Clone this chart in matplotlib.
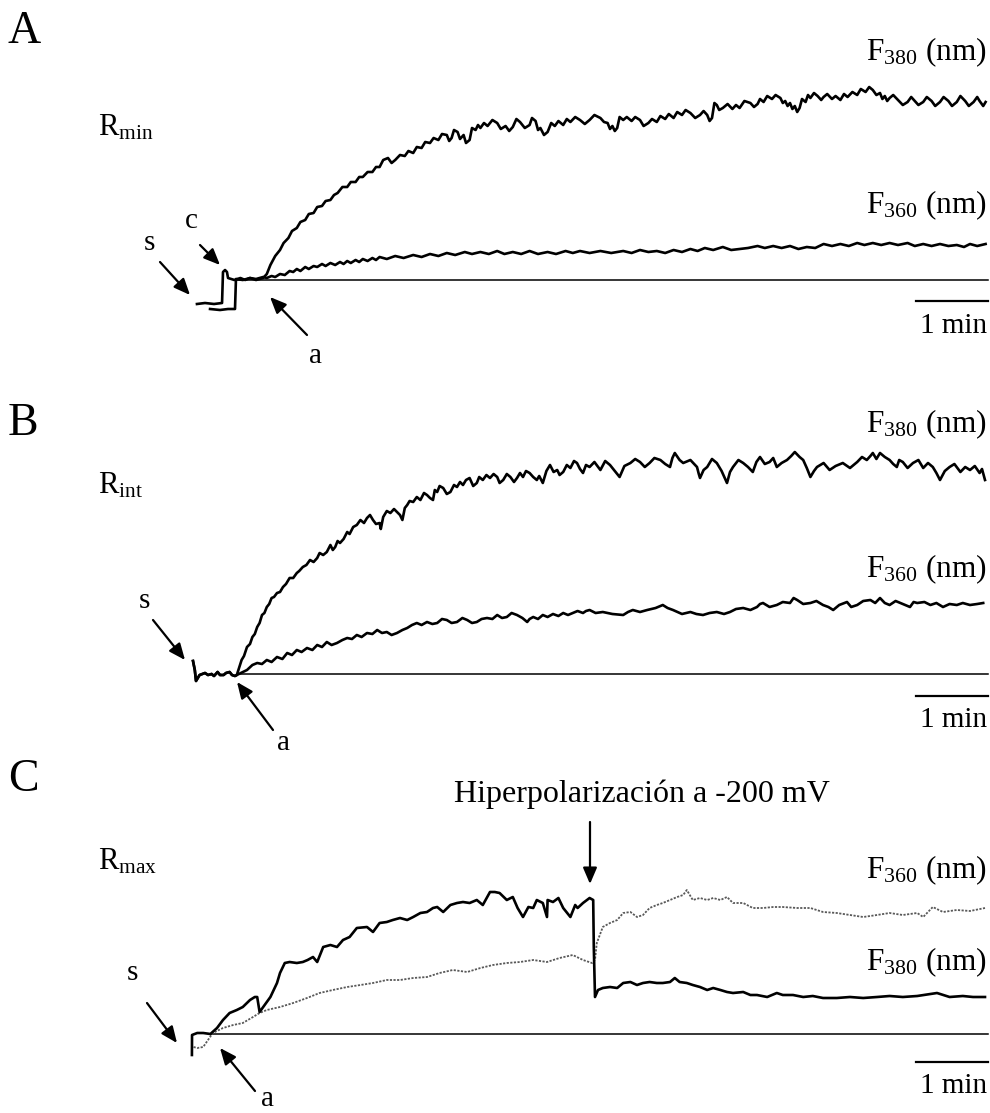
import matplotlib
matplotlib.use("Agg")
import matplotlib.pyplot as plt

plt.rcParams['font.family'] = ['Liberation Serif', 'DejaVu Serif']
plt.rcParams['mathtext.fontset'] = 'custom'
plt.rcParams['mathtext.rm'] = 'Liberation Serif'
plt.rcParams['mathtext.it'] = 'Liberation Serif:italic'

# ---------------- data: (time in s, fluorescence in a.u. above background) -------------
A_F380 = [(5.8,-24),(12.5,-23),(20,-24),(26.7,-23),(27.5,8),(29.2,10),(30.8,8),(31.7,2),(37,0),(42,2),(46,0),(50,2),(55,0),(61,2),
          (64,6),(67,15),(71,24),(75,30),(78,37),(82,42),(85,49),(89,52),(92,58),(96,60),(99,66),(103,67),(106,73),(110,74),
          (113,79),(117,80),(120,85),(123,87),(127,93),(131,93),(134,98),(138,98),(141,103),(144,103),(148,108),(152,108),
          (155,113),(158,113),(161,120),(165,122),(168,117),(171,120),(175,125),(179,124),(182,129),(186,127),(189,133),
          (193,132),(196,138),(200,137),(203,142),(207,140),(210,146),(214,145),(216,139),(218,142),(220,150),(223,148),
          (225,141),(228,145),(230,137),(233,140),(235,152),(238,150),(240,155),(242,152),(245,157),(248,154),(252,160),
          (256,157),(259,151),(263,154),(266,149),(269,153),(272,161),(275,158),(279,152),(283,155),(285,162),(288,159),
          (290,150),(292,152),(295,145),(298,148),(301,157),(304,154),(307,159),(311,155),(314,161),(317,158),(321,163),
          (325,160),(329,156),(333,160),(337,165),(342,162),(345,158),(348,157),(350,151),(352,154),(354,149),(356,152),
          (358,163),(361,160),(364,163),(368,159),(371,163),(375,160),(378,154),(382,157),(385,161),(389,158),(392,164),
          (396,161),(399,166),(403,162),(406,168),(410,165),(413,170),(417,167),(421,162),(425,165),(428,169),(431,165),
          (433,159),(435,162),(437,177),(439,175),(441,170),(444,172),(448,176),(452,171),(455,175),(458,172),(462,179),
          (467,177),(470,173),(473,176),(475,181),(478,178),(481,184),(485,181),(488,185),(492,182),(494,177),(496,179),
          (498,174),(500,177),(502,171),(504,174),(506,168),(508,172),(510,181),(513,178),(515,185),(517,182),(520,187),
          (523,184),(526,180),(528,183),(531,186),(535,181),(538,184),(542,180),(545,186),(548,183),(552,188),(556,185),
          (559,191),(563,188),(566,193),(569,190),(572,185),(575,187),(577,181),(579,184),(581,179),(583,182),(586,185),
          (590,180),(594,175),(598,178),(601,183),(604,179),(607,175),(611,178),(614,183),(618,179),(621,174),(625,178),
          (628,183),(632,179),(635,174),(639,178),(642,184),(646,179),(649,174),(653,178),(656,183),(658,179),(661,174),
          (663,178)]
A_F360 = [(16.7,-29),(25,-30),(31.7,-29),(37.5,-29),(38.3,1),(44,0),(50,2),(55,1),(61,3),(64,2),(68,4),(71,3),(75,6),
          (79,5),(83,9),(86,8),(89,11),(92,9),(96,13),(99,11),(103,14),(106,13),(110,16),(113,14),(117,17),(121,15),
          (125,18),(128,16),(131,19),(134,17),(138,20),(141,18),(144,21),(148,19),(152,22),(155,20),(158,23),(164,21),
          (171,24),(178,22),(186,25),(193,23),(200,26),(207,24),(214,27),(221,25),(229,28),(235,26),(242,28),(249,26),
          (256,29),(262,26),(269,28),(276,26),(283,29),(290,26),(298,28),(305,26),(313,29),(319,27),(325,29),(333,27),
          (342,29),(351,27),(361,29),(368,27),(375,30),(382,28),(389,29),(396,27),(403,30),(410,28),(417,31),(423,29),
          (429,32),(436,30),(444,33),(451,30),(458,31),(465,32),(473,34),(479,32),(486,34),(493,32),(500,34),(507,31),
          (514,33),(521,32),(528,36),(535,34),(542,36),(549,34),(556,37),(562,35),(569,37),(576,35),(583,37),(590,35),
          (598,37),(604,34),(611,36),(618,34),(625,36),(632,34),(639,35),(645,33),(650,36),(656,34),(663,36)]
A_ZERO = [(38.3,0),(665,0)]

B_START = [(2.5,13),(4,4),(5,-7),(8,-1),(12.5,1),(15,-1),(18,0),(20,-2),(23,2),(25,-1),(28,-1),(30,1),(33,2),
           (35,-1),(37.5,-2),(39,-1)]
B_F380 = [(43,14),(45,18),(47.5,27),(50,30),(52,37),(54,40),(56,47),(58,51),(60,59),(62,61),(64,67),(66,70),(68,76),
          (70,77),(72.5,81),(75,82),(77.5,87),(80,90),(83,96),(86,96),(89,101),(91,103),(94,107),(97,109),(100,114),
          (103,112),(106,116),(108,121),(111,119),(114,122),(117,129),(119,124),(121,127),(123,133),(125,131),(128,135),
          (131,142),(133,140),(136,147),(139,149),(142,154),(145,151),(147.5,156),(150,159),(152.5,154),(155,150),
          (158,151),(159,145),(161,157),(164,163),(167,161),(170,165),(172.5,162),(175,159),(177,154),(179,166),
          (181,169),(183,173),(186,172),(189,177),(192,174),(195,181),(197.5,179),(200,176),(202.5,174),(204,184),
          (206,182),(208,188),(211,186),(214,180),(217,182),(220,189),(222.5,187),(225,192),(227.5,189),(230,194),
          (233,196),(236,188),(239,191),(241,197),(244,194),(247,199),(250,196),(253,200),(256,197),(258,191),
          (261,194),(264,200),(267,197),(270,192),(272.5,196),(275,201),(277.5,197),(280,203),(283,201),(286,197),
          (289,194),(291,198),(294,191),(297,203),(300,209),(303,202),(306,204),(308,199),(311,202),(314,209),
          (317,206),(320,213),(322.5,211),(325,205),(327.5,201),(330,209),(333,207),(337,212),(342,204),(346,213),
          (350,209),(354,203),(358,197),(362,208),(367,211),(371,215),(375,212),(379,207),(383,211),(387,216),
          (392,214),(396,210),(400,207),(402,216),(404,221),(408,214),(411,211),(417,214),(422.5,207),(424,200),
          (425,196),(428,204),(431,207),(435,215),(439,211),(443,203),(447.5,191),(450,202),(452.5,207),(457,214),
          (461,211),(465,207),(469,202),(472,212),(475,217),(479,210),(483,212),(486,216),(489,207),(493,211),
          (497.5,214),(501,218),(504,222),(508,217),(511,214),(514,206),(517,197),(520,203),(522.5,207),(528,211),
          (533,204),(538,208),(544,211),(550,206),(556,212),(560,217),(564,214),(567,218),(569,221),(572,215),
          (575,221),(579,217),(583,214),(586,210),(589,207),(591,214),(594,212),(598,206),(602.5,211),(607,214),
          (611,206),(615,211),(619,207),(622,201),(625,194),(629,203),(633,207),(637,210),(642,202),(646,207),
          (650,204),(654,208),(658,201),(660,205),(662.5,194)]
B_F360 = [(47.5,4),(52,9),(56,11),(60,10),(64,14),(68,12),(72.5,17),(77,15),(81,21),(85,19),(89,24),(93,22),
          (97.5,26),(102,24),(106,29),(110,27),(114,32),(118,29),(122.5,31),(127,34),(131,36),(135,35),(139,39),
          (143,37),(147.5,41),(152,40),(156,44),(160,41),(164,42),(168,39),(172.5,41),(177,44),(181,46),(185,49),
          (189,51),(193,49),(197.5,52),(202,50),(206,51),(210,55),(214,54),(218,51),(222.5,52),(227,56),(231,54),
          (235,51),(239,52),(243,55),(247.5,56),(252,55),(256,59),(260,56),(264,57),(268,61),(272.5,59),(277,56),
          (281,52),(283,55),(286,57),(290,55),(294,59),(298,57),(302.5,60),(307,58),(311,61),(315,59),(319,61),
          (323,63),(327.5,61),(330,63),(333,64),(338,61),(344,62),(352,60),(361,59),(365,62),(369,64),(375,62),
          (381,64),(388,66),(394,69),(398,66),(402.5,64),(410,60),(417,62),(422,60),(427.5,59),(433,61),(439,62),
          (445,60),(450,62),(455,65),(461,66),(467,64),(472.5,67),(475,70),(477.5,71),(483,67),(489,69),(494,72),
          (500,71),(503,76),(506,74),(511,70),(517,71),(522,73),(527.5,69),(532,67),(536,64),(541,69),(547.5,72),
          (551,67),(556,69),(561,73),(567,74),(571,71),(575,76),(579,71),(583,69),(588,73),(592,71),(596,69),
          (600,67),(603,72),(606,71),(612,72),(617,69),(622,71),(627.5,67),(633,70),(639,69),(644,71),(650,69),
          (656,70),(661,71)]
B_ZERO = [(39,0),(665,0)]

C_F380 = [(1.6,-21),(1.7,-1),(6,1),(11,1),(17,0),(22.5,6),(27.5,14),(33,21),(39,24),(44,27),(50,34),
          (54,37),(56,37),(58,22),(61,27),(67,37),(72.5,51),(75,61),(79,71),(83,72),(89,71),(94,72),
          (98,74),(102.5,77),(106,72),(111,87),(117,89),(122.5,87),(127.5,94),(133,97),(139,106),
          (147.5,107),(152.5,102),(158,111),(164,112),(169,114),(175,116),(181,114),(186,117),(192,121),
          (197.5,122),(202.5,126),(206,127),(211,122),(217,129),(222.5,131),(227.5,132),(233,131),
          (239,134),(244,129),(250,142),(254,142),(258,141),(264,134),(269,137),(273,126),(277.5,117),
          (282,127),(286,126),(289,134),(294,131),(297.5,117),(298,134),(302.5,132),(307,136),(311,126),
          (317,117),(321,129),(323,126),(327.5,131),(333,136),(336,134),(336.5,87),(337.5,37),(340,44),
          (344,46),(350,47),(356,46),(361,51),(367,52),(372.5,49),(377.5,51),(383,52),(389,51),(394,51),
          (400,52),(404,56),(408,52),(414,51),(419,49),(425,47),(431,44),(436,46),(442,44),(447.5,42),
          (452.5,41),(461,42),(467,39),(472.5,39),(481,37),(489,41),(494,39),(502.5,39),(511,37),
          (519,38),(527.5,36),(539,36),(550,37),(561,36),(572.5,37),(583,38),(594,37),(606,38),
          (622.5,41),(633,37),(644,38),(652.5,37),(662.5,37)]
C_F360 = [(3,-13),(6,-14),(11,-13),(15,-6),(19,1),(27.5,6),(36,9),(44,11),(52.5,17),(58,21),(64,24),
          (75,27),(86,31),(97.5,36),(108,41),(119,44),(131,47),(142,49),(152.5,51),(164,54),(175,54),
          (186,56),(197.5,57),(208,61),(219,64),(231,62),(242,66),(252.5,69),(264,71),(275,72),(286,74),
          (297.5,72),(308,76),(319,79),(327.5,74),(335,71),(337.5,74),(339,91),(344,107),(350,111),
          (356,114),(361,121),(367,122),(372.5,117),(377.5,119),(383,126),(389,129),(394,131),(400,134),
          (406,137),(411,139),(414,144),(419,134),(425,136),(431,134),(436,136),(442,134),(447.5,137),
          (452.5,131),(461,131),(469,126),(477.5,126),(486,127),(494,127),(506,126),(517,126),
          (527.5,122),(539,121),(550,119),(561,117),(572.5,119),(583,121),(594,119),(606,121),(611,117),
          (619,127),(627.5,122),(639,124),(650,123),(662.5,126)]
C_ZERO = [(17,0),(665,0)]

SCALE_BAR_S = 60
T_END = 665

# ---------------- layout ----------------
W, H = 990, 1113
fig = plt.figure(figsize=(W / 100, H / 100), dpi=100)
fig.patch.set_facecolor('white')

def panel(top, bottom, base):
    ax = fig.add_axes([190 / W, 1 - bottom / H, 800 / W, (bottom - top) / H])
    ax.set_xlim(0, 800 / 1.2)
    ax.set_ylim(base - bottom, base - top)
    ax.axis('off')
    return ax

def trace(ax, pts, **kw):
    t, f = zip(*pts)
    ax.plot(t, f, clip_on=False, **kw)

axA = panel(0, 380, 280)
axB = panel(380, 750, 674)
axC = panel(750, 1113, 1034)

thick = dict(color='black', lw=1.9)
thin = dict(color='black', lw=1.1)

trace(axA, A_ZERO, **thin)
trace(axA, A_F360, **thick)
trace(axA, A_F380, **thick)

trace(axB, B_ZERO, **thin)
trace(axB, B_START + B_F360, **thick)
trace(axB, B_START + B_F380, **thick)

trace(axC, C_ZERO, **thin)
trace(axC, C_F360, color='0.35', lw=1.3, linestyle=(0, (1.2, 0.8)))
trace(axC, C_F380, **thick)

# scale bars (1 min)
for ax, yb in ((axA, -21), (axB, -22), (axC, -28)):
    ax.plot([T_END - SCALE_BAR_S, T_END], [yb, yb], color='black', lw=1.6, clip_on=False)

def ftext(x, y, s, size, ha='left', **kw):
    fig.text(x / W, 1 - y / H, s, fontsize=size, ha=ha, va='baseline', **kw)

def arrow(x0, y0, x1, y1):
    fig.add_artist(matplotlib.patches.FancyArrowPatch(
        (x0 / W, 1 - y0 / H), (x1 / W, 1 - y1 / H), transform=fig.transFigure,
        arrowstyle='-|>,head_length=0.7,head_width=0.3', mutation_scale=14,
        lw=1.6, color='black', shrinkA=0, shrinkB=0))

# panel letters
ftext(8, 43, 'A', 33)
ftext(8, 435, 'B', 33)
ftext(8, 791, 'C', 33)

ftext(98, 135, r'R$_{\mathrm{min}}$', 22)
ftext(98, 493, r'R$_{\mathrm{int}}$', 22)
ftext(98, 870, r'R$_{\mathrm{max}}$', 22)

lab380 = r'F$_{\mathrm{380}}$ (nm)'
lab360 = r'F$_{\mathrm{360}}$ (nm)'
ftext(986, 60, lab380, 22.5, ha='right')
ftext(986, 213, lab360, 22.5, ha='right')
ftext(986, 432, lab380, 22.5, ha='right')
ftext(986, 577, lab360, 22.5, ha='right')
ftext(986, 878, lab360, 22.5, ha='right')
ftext(986, 970, lab380, 22.5, ha='right')

for y in (333, 727, 1093):
    ftext(987, y, '1 min', 21, ha='right')

ftext(642, 802, 'Hiperpolarización a -200 mV', 23, ha='center')
arrow(590, 822, 590, 884)

# s / c / a markers
ftext(149, 250, 's', 21, ha='center')
ftext(191, 228, 'c', 21, ha='center')
ftext(315, 363, 'a', 21, ha='center')
arrow(160, 262, 190, 295)
arrow(200, 245, 220, 265)
arrow(307, 335, 270, 297)

ftext(144, 608, 's', 21, ha='center')
ftext(283, 750, 'a', 21, ha='center')
arrow(153, 620, 185, 660)
arrow(273, 730, 237, 682)

ftext(132, 980, 's', 21, ha='center')
ftext(268, 1106, 'a', 21, ha='center')
arrow(147, 1003, 177, 1043)
arrow(255, 1091, 220, 1048)

fig.savefig('out.png', dpi=100, facecolor='white')
